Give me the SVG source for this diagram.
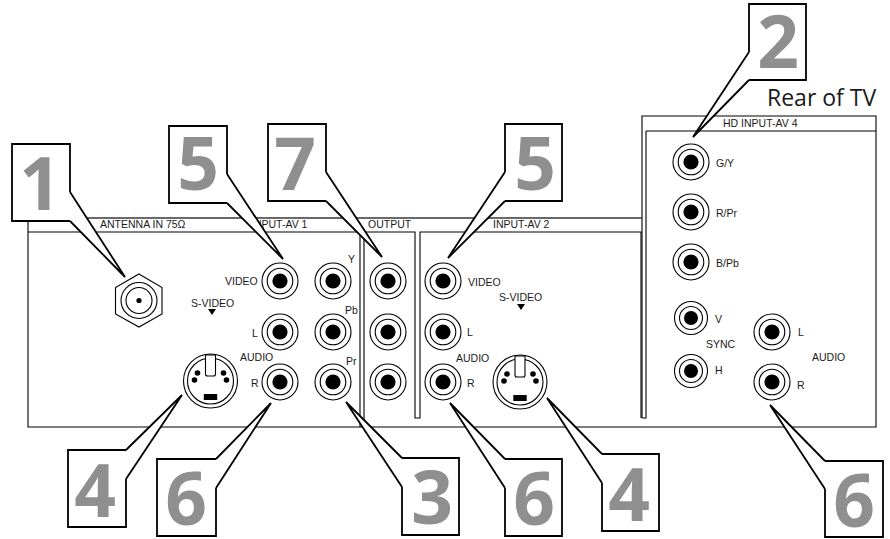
<svg xmlns="http://www.w3.org/2000/svg" width="890" height="539" viewBox="0 0 890 539">
<style>
text{font-family:"Liberation Sans",Arial,sans-serif;fill:#1a1a1a}
.l{font-size:10.5px}
.n{font-family:"Open Sans","Noto Sans",sans-serif;font-size:73px;font-weight:700;fill:#8f8f8f;text-anchor:middle}
.t{font-family:"Open Sans","Noto Sans",sans-serif;font-size:23px;fill:#1a1a1a}
.p{fill:none;stroke:#000;stroke-width:1.1}
.r{fill:none;stroke:#000;stroke-width:1.1}
.b{fill:#fff;stroke:#000;stroke-width:1.8;stroke-linejoin:miter}
.c{fill:#fff;stroke:#000;stroke-width:1.8;stroke-linejoin:miter}
</style>
<defs>
<g id="jack"><circle class="r" r="18"/><circle class="r" r="12.8"/><circle r="7.6" fill="#000"/></g>
<g id="jacks"><circle class="r" r="16.5"/><circle class="r" r="11.5"/><circle r="7" fill="#000"/></g>
<g id="svid">
<circle class="r" r="27"/><circle class="r" r="23"/>
<path d="M-5 -26V-7Q-5 -5 -3 -5H3Q5 -5 5 -7V-26Z" fill="#fff" stroke="#000" stroke-width="1.1"/>
<circle cx="-13" cy="-8" r="2.8" fill="#000"/><circle cx="13" cy="-8" r="2.8" fill="#000"/>
<circle cx="-16" cy="-1" r="2.8" fill="#000"/><circle cx="16" cy="-1" r="2.8" fill="#000"/>
<rect x="-6.7" y="13" width="13.4" height="6" fill="#000"/>
</g>
</defs>
<g id="panel">
<path class="p" d="M642 418V116H876V427H28V218H642"/>
<path class="p" d="M646 131H876M646 131V418H642M28 232H360M360 232V427M364 232V427M364 232H415V418H420V232H641V418"/>
<path d="M28 218H642" fill="none" stroke="#555" stroke-width="1.1"/>
<text class="l" x="100" y="228">ANTENNA IN 75Ω</text>
<text class="l" x="251" y="227.500">INPUT-AV 1</text>
<text class="l" x="368" y="228">OUTPUT</text>
<text class="l" x="493" y="227.500">INPUT-AV 2</text>
<text class="l" x="723" y="127">HD INPUT-AV 4</text>
<text class="t" x="767" y="106">Rear of TV</text>
<text class="l" x="225" y="285">VIDEO</text>
<text class="l" x="191" y="306.500">S-VIDEO</text>
<path d="M208 309H216L212 315Z" fill="#000"/>
<text class="l" x="252" y="337">L</text>
<text class="l" x="240" y="361">AUDIO</text>
<text class="l" x="251" y="387">R</text>
<text class="l" x="348" y="263">Y</text>
<text class="l" x="345" y="314">Pb</text>
<text class="l" x="346" y="365">Pr</text>
<text class="l" x="468" y="286">VIDEO</text>
<text class="l" x="499" y="301">S-VIDEO</text>
<path d="M517 304H525L521 310Z" fill="#000"/>
<text class="l" x="467" y="336">L</text>
<text class="l" x="456" y="362">AUDIO</text>
<text class="l" x="467" y="387">R</text>
<text class="l" x="716" y="167">G/Y</text>
<text class="l" x="716" y="217">R/Pr</text>
<text class="l" x="716" y="267">B/Pb</text>
<text class="l" x="715" y="323">V</text>
<text class="l" x="706" y="348">SYNC</text>
<text class="l" x="715" y="374">H</text>
<text class="l" x="798" y="336">L</text>
<text class="l" x="812" y="361">AUDIO</text>
<text class="l" x="797" y="389">R</text>
</g>
<g id="antenna-in">
<path class="r" d="M139 274L162 287.500V314L139 327L115.500 314V287.500Z"/>
<circle class="r" cx="139" cy="300.500" r="18"/><circle class="r" cx="139" cy="300.500" r="13"/><circle cx="139" cy="300.500" r="2.600" fill="#000"/>
</g>
<g id="av1-video"><use href="#jack" x="280" y="281"/></g>
<g id="av1-l"><use href="#jack" x="280" y="332"/></g>
<g id="av1-r"><use href="#jack" x="280" y="382"/></g>
<g id="av1-y"><use href="#jack" x="333" y="281"/></g>
<g id="av1-pb"><use href="#jack" x="333" y="332"/></g>
<g id="av1-pr"><use href="#jack" x="333" y="382"/></g>
<g id="out-1"><use href="#jack" x="388" y="281"/></g>
<g id="out-2"><use href="#jack" x="388" y="332"/></g>
<g id="out-3"><use href="#jack" x="388" y="382"/></g>
<g id="av2-video"><use href="#jack" x="443" y="281"/></g>
<g id="av2-l"><use href="#jack" x="443" y="332"/></g>
<g id="av2-r"><use href="#jack" x="443" y="382"/></g>
<g id="av1-svideo"><use href="#svid" x="210.500" y="381"/></g>
<g id="av2-svideo"><use href="#svid" x="520" y="382"/></g>
<g id="hd-gy"><use href="#jack" x="691" y="162"/></g>
<g id="hd-rpr"><use href="#jack" x="691" y="212"/></g>
<g id="hd-bpb"><use href="#jack" x="691" y="262"/></g>
<g id="hd-v"><use href="#jacks" x="691" y="318"/></g>
<g id="hd-h"><use href="#jacks" x="691" y="371"/></g>
<g id="hd-l"><use href="#jack" x="772" y="332"/></g>
<g id="hd-r"><use href="#jack" x="772" y="382"/></g>
<g id="callout-1"><path class="b" d="M70 192V144H12V221H70"/><text class="n" x="40" y="210">1</text></g>
<g id="callout-5a"><path class="b" d="M227 174V126H169V203H227"/><text class="n" x="198" y="190">5</text></g>
<g id="callout-7"><path class="b" d="M326 172V124H268V201H326"/><text class="n" x="295" y="190">7</text></g>
<g id="callout-5b"><path class="b" d="M505 172V124H562V201H505"/><text class="n" x="535" y="190">5</text></g>
<g id="callout-2"><path class="b" d="M749 52V4H806V80H749"/><text class="n" x="778" y="68">2</text></g>
<g id="callout-6c"><path class="b" d="M825 461H883V537H825V489"/><text class="n" x="854" y="527">6</text></g>
<g id="callout-4a"><path class="b" d="M126 450H68V527H126V479"/><text class="n" x="95" y="517">4</text></g>
<g id="callout-6a"><path class="b" d="M216 459H157V536H216V488"/><text class="n" x="186" y="525">6</text></g>
<g id="callout-3"><path class="b" d="M402 458H459V535H402V487"/><text class="n" x="432" y="524">3</text></g>
<g id="callout-6b"><path class="b" d="M505 459H562V536H505V488"/><text class="n" x="534" y="525">6</text></g>
<g id="callout-4b"><path class="b" d="M602 454H659V531H602V483"/><text class="n" x="629" y="521">4</text></g>
<g id="connectors">
<path class="c" d="M70 192L125 277L70 221"/>
<path class="c" d="M227 174L283 259L227 203"/>
<path class="c" d="M326 172L382 257L326 201"/>
<path class="c" d="M505 172L448 258L505 201"/>
<path class="c" d="M749 52L693 137L749 80"/>
<path class="c" d="M825 461L770 405L825 489"/>
<path class="c" d="M126 450L182 395L126 479"/>
<path class="c" d="M216 459L271 403L216 488"/>
<path class="c" d="M402 458L346 402L402 487"/>
<path class="c" d="M505 459L450 403L505 488"/>
<path class="c" d="M602 454L547 398L602 483"/>
</g>
</svg>
